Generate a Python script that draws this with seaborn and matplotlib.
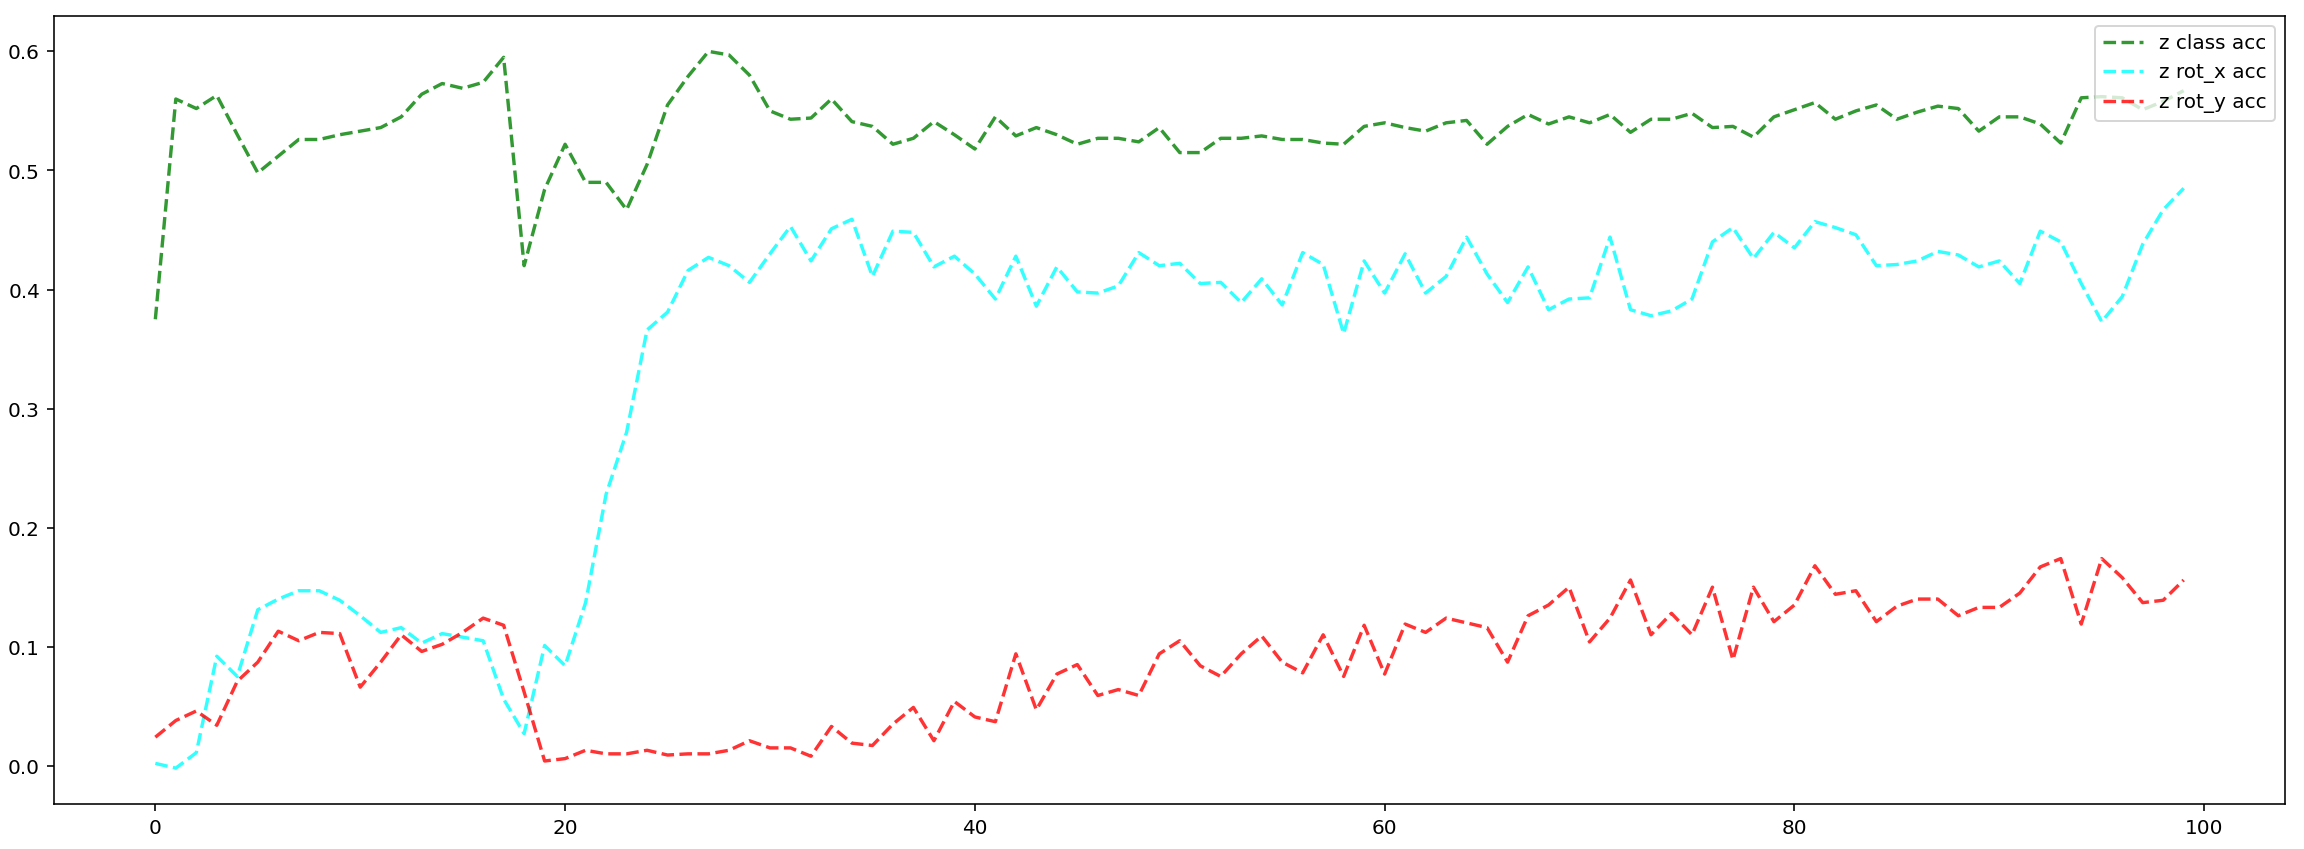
import numpy as np
import pandas as pd
import matplotlib
matplotlib.use("Agg")
import matplotlib.pyplot as plt
import seaborn as sns

# per-epoch accuracies
z_class_acc = [
    0.375, 0.560, 0.552, 0.563, 0.530, 0.498, 0.512, 0.526, 0.526, 0.530,
    0.533, 0.536, 0.545, 0.564, 0.573, 0.569, 0.574, 0.595, 0.420, 0.484,
    0.522, 0.490, 0.490, 0.467, 0.505, 0.555, 0.579, 0.600, 0.597, 0.580,
    0.550, 0.543, 0.544, 0.560, 0.541, 0.537, 0.522, 0.527, 0.541, 0.530,
    0.518, 0.545, 0.529, 0.536, 0.530, 0.522, 0.527, 0.527, 0.524, 0.536,
    0.515, 0.515, 0.527, 0.527, 0.529, 0.526, 0.526, 0.523, 0.522, 0.537,
    0.540, 0.536, 0.533, 0.540, 0.542, 0.522, 0.537, 0.547, 0.539, 0.545,
    0.540, 0.547, 0.532, 0.543, 0.543, 0.548, 0.536, 0.537, 0.528, 0.545,
    0.551, 0.557, 0.543, 0.550, 0.555, 0.543, 0.549, 0.554, 0.552, 0.533,
    0.545, 0.545, 0.539, 0.523, 0.561, 0.562, 0.561, 0.551, 0.558, 0.567,
]
z_rot_x_acc = [
    0.002, -0.002, 0.011, 0.092, 0.075, 0.131, 0.140, 0.147, 0.147, 0.139,
    0.126, 0.112, 0.116, 0.103, 0.111, 0.108, 0.105, 0.056, 0.027, 0.101,
    0.084, 0.137, 0.228, 0.280, 0.366, 0.381, 0.416, 0.427, 0.420, 0.406,
    0.430, 0.453, 0.424, 0.451, 0.459, 0.411, 0.449, 0.448, 0.419, 0.428,
    0.413, 0.392, 0.428, 0.386, 0.419, 0.398, 0.397, 0.403, 0.431, 0.420,
    0.422, 0.405, 0.406, 0.389, 0.409, 0.387, 0.431, 0.421, 0.363, 0.424,
    0.397, 0.430, 0.397, 0.411, 0.444, 0.413, 0.389, 0.419, 0.383, 0.392,
    0.393, 0.444, 0.383, 0.378, 0.382, 0.392, 0.440, 0.452, 0.426, 0.448,
    0.435, 0.457, 0.452, 0.446, 0.420, 0.421, 0.424, 0.432, 0.429, 0.419,
    0.424, 0.405, 0.449, 0.440, 0.405, 0.373, 0.394, 0.438, 0.467, 0.485,
]
z_rot_y_acc = [
    0.024, 0.038, 0.046, 0.034, 0.071, 0.087, 0.113, 0.105, 0.112, 0.111,
    0.066, 0.087, 0.110, 0.096, 0.102, 0.112, 0.124, 0.118, 0.062, 0.004,
    0.006, 0.013, 0.010, 0.010, 0.013, 0.009, 0.010, 0.010, 0.013, 0.021,
    0.015, 0.015, 0.008, 0.033, 0.019, 0.017, 0.035, 0.049, 0.021, 0.054,
    0.041, 0.037, 0.094, 0.047, 0.077, 0.085, 0.059, 0.064, 0.059, 0.094,
    0.105, 0.084, 0.075, 0.094, 0.109, 0.087, 0.078, 0.110, 0.075, 0.118,
    0.077, 0.119, 0.112, 0.124, 0.120, 0.116, 0.087, 0.126, 0.135, 0.150,
    0.104, 0.124, 0.156, 0.110, 0.128, 0.110, 0.150, 0.089, 0.150, 0.121,
    0.135, 0.168, 0.144, 0.147, 0.121, 0.134, 0.140, 0.140, 0.126, 0.133,
    0.133, 0.145, 0.167, 0.174, 0.119, 0.174, 0.158, 0.137, 0.139, 0.156,
]
epochs = np.arange(len(z_class_acc))

series = [
    ("z class acc", z_class_acc, "g"),
    ("z rot_x acc", z_rot_x_acc, "cyan"),
    ("z rot_y acc", z_rot_y_acc, "r"),
]

fig, ax = plt.subplots(figsize=(16, 5.9), dpi=144)
fig.subplots_adjust(left=0.0234, right=0.9918, bottom=0.053, top=0.981)

for name, vals, col in series:
    sns.lineplot(x=epochs, y=vals, ax=ax, color=col, linestyle="--",
                 alpha=0.8, linewidth=1.7, label=name)

ax.set_xticks([0, 20, 40, 60, 80, 100])
ax.legend(loc="upper right")

fig.savefig("out.png", dpi=144)
